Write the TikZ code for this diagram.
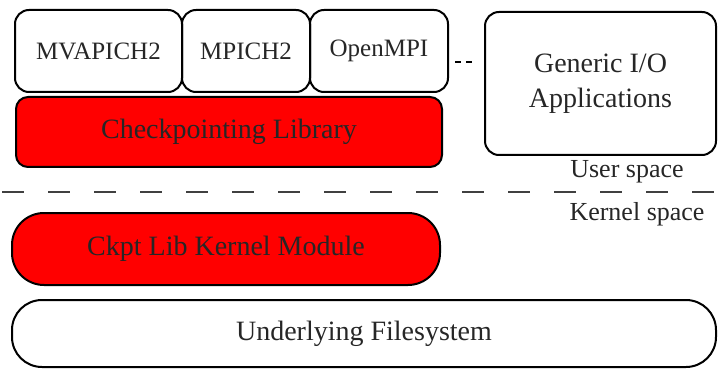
\documentclass[tikz,border=0pt]{standalone}
\usepackage{fontspec}
\setmainfont{Liberation Serif}
\usetikzlibrary{arrows,positioning}
\usepgflibrary{arrows.meta}

\begin{document}
\begin{tikzpicture}[x=0.5pt,y=-0.5pt,
        box/.style={draw,line width=1pt,rounded corners=7pt,inner sep=0pt,
            text=black!85,font=\fontsize{14}{17.5}\selectfont},
        mpibox/.style={box,minimum height=41pt,font=\fontsize{12.5}{15}\selectfont},
        redbox/.style={box,fill=red}]
        \useasboundingbox (0,0) rectangle (718,369);
        %MPI库
        \node[mpibox,minimum width=83.5pt] (mvapich) at (98.5,51) {MVAPICH2};
        \node[mpibox,minimum width=64pt] (mpich) at (246,51) {MPICH2};
        \node[mpibox,minimum width=69pt] (openmpi) at (379,51) {OpenMPI};
        %检查点库
        \node[redbox,minimum width=213pt,minimum height=35pt,rounded corners=6pt] (ckptlib) at (229,132) {Checkpointing Library};
        %通用应用
        \node[box,minimum width=115.5pt,minimum height=71.5pt,align=center] (genio) at (600.5,83.5) {Generic I/O\\Applications};
        \coordinate (dota) at (455,62);
        \coordinate (dotb) at (472,62);
        \draw [line width=1pt,dash pattern=on 3pt off 2.5pt] (dota) -- (dotb);
        %用户/内核分界
        \node[text=black!85,font=\fontsize{13}{15}\selectfont] (user) at (627,172) {User space};
        \draw [line width=1.3pt,black!75,dash pattern=on 11pt off 12pt] (2,192) -- (718,192);
        \node[text=black!85,font=\fontsize{13}{15}\selectfont] (kernel) at (637,214) {Kernel space};
        %内核模块与文件系统
        \node[redbox,minimum width=214pt,minimum height=36pt,rounded corners=16pt] (ckptmod) at (226,249) {Ckpt Lib Kernel Module};
        \node[box,minimum width=352pt,minimum height=33.5pt,rounded corners=15pt] (fs) at (364,333.5) {Underlying Filesystem};
\end{tikzpicture}
\end{document}
